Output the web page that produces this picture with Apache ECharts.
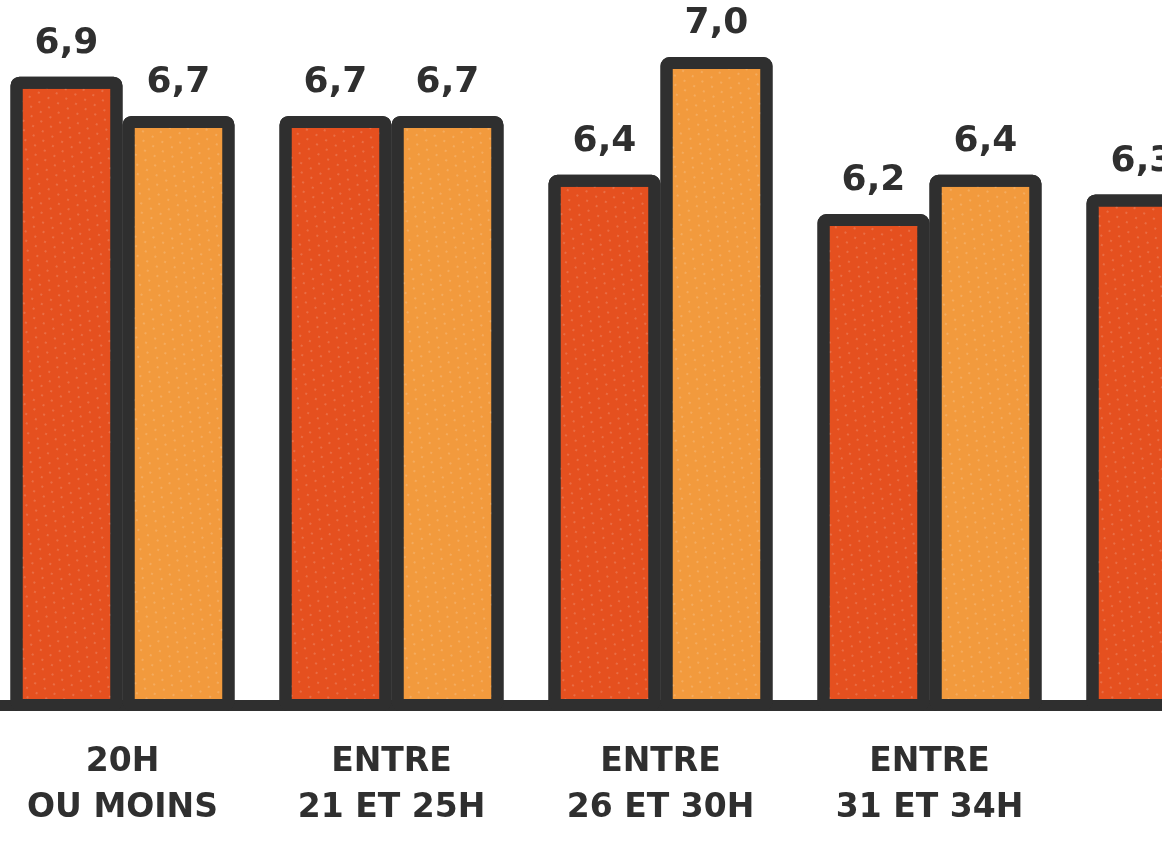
<!DOCTYPE html>
<html>
<head>
<meta charset="utf-8">
<script src="https://cdn.jsdelivr.net/npm/echarts@6/dist/echarts.min.js"></script>
<style>
  html, body { margin: 0; padding: 0; background: #fff; overflow: hidden; }
  /* the chart is wider than the window: the last group is cut by the right edge */
  #chart { width: 1345px; height: 842px; margin-left: -12px; }
</style>
</head>
<body>
<div id="chart"></div>
<script>
// categories (the last one is cut by the right edge of the picture)
var categories = ['20H\nOU MOINS', 'ENTRE\n21 ET 25H', 'ENTRE\n26 ET 30H', 'ENTRE\n31 ET 34H', '35H\nET+'];
// red bars
var serieA = [6.9, 6.7, 6.4, 6.2, 6.3];
// orange bars (last value is off the picture)
var serieB = [6.7, 6.7, 7.0, 6.4, 6.5];

var ink = '#2f2f2f';
var speckle = {
    color: 'rgba(255,255,255,0.55)',
    symbol: 'rect',
    symbolSize: 0.6,
    dashArrayX: [[2, 9], [0, 5, 2, 4]],
    dashArrayY: [2, 6],
    rotation: 0.5
};

var myChart = echarts.init(document.getElementById('chart'));

function comma(p) {
    return String(p.value.toFixed(1)).replace('.', ',');
}

function barSerie(data, color) {
    return {
        type: 'bar',
        data: data,
        barWidth: 112,
        barGap: 0,
        itemStyle: {
            color: color,
            borderColor: ink,
            borderWidth: 12,
            borderRadius: 3,
            decal: speckle
        },
        label: {
            show: true,
            position: 'top',
            distance: 15,
            formatter: comma,
            color: ink,
            fontFamily: 'DejaVu Sans',
            fontWeight: 'bold',
            fontSize: 36
        }
    };
}

var option = {
    animation: false,
    backgroundColor: '#ffffff',
    grid: {
        left: 0,
        right: 0,
        top: 57,
        bottom: 137
    },
    xAxis: {
        type: 'category',
        data: categories,
        axisLine: { show: true, lineStyle: { color: ink, width: 11 } },
        axisTick: { show: false },
        axisLabel: {
            margin: 34,
            interval: 0,
            color: ink,
            fontFamily: 'DejaVu Sans',
            fontWeight: 'bold',
            fontSize: 33,
            lineHeight: 46
        }
    },
    yAxis: {
        type: 'value',
        min: 3.7,
        max: 7.0,
        show: false,
        splitLine: { show: false }
    },
    series: [
        barSerie(serieA, '#e5501f'),
        barSerie(serieB, '#f29a3d')
    ]
};

myChart.setOption(option);
</script>
</body>
</html>
